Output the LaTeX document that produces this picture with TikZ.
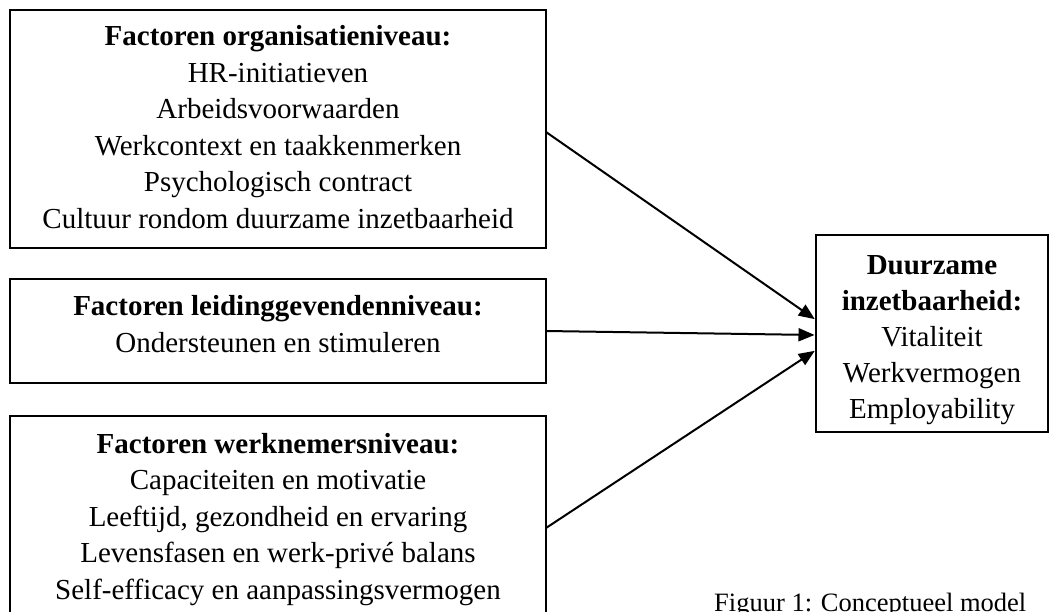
\documentclass[tikz,border=0pt]{standalone}
\usepackage{fontspec}
\setmainfont{Liberation Serif}
\usetikzlibrary{arrows.meta}
\begin{document}
\begin{tikzpicture}[x=1pt,y=-1pt,
  box/.style={draw, line width=2.4pt, rectangle, inner sep=0pt, outer sep=0pt},
  txt/.style={anchor=base, inner sep=0pt, font=\fontsize{29}{35}\selectfont},
  ttl/.style={anchor=base, inner sep=0pt, font=\fontsize{29}{35}\selectfont\bfseries},
  figcap/.style={anchor=base west, inner sep=0pt, font=\fontsize{26.5}{32}\selectfont},
  arr/.style={line width=2pt, shorten >=1.5pt, -{Triangle[length=16pt,width=13pt]}}]
\useasboundingbox (0,0) rectangle (1049,611);
\fill[white] (0,0) rectangle (1049,611);
% boxes
\node[box, minimum width=536pt, minimum height=238pt] (org) at (278,129) {};
\node[box, minimum width=536pt, minimum height=104pt] (lead) at (278,331) {};
\node[box, minimum width=536pt, minimum height=224pt] (werk) at (278,528) {};
\node[box, minimum width=232pt, minimum height=197pt] (dur) at (932,333.5) {};
% texts organisation
\node[ttl] (o0) at (278,45.5) {Factoren organisatieniveau:};
\node[txt] (o1) at (278,82) {HR-initiatieven};
\node[txt] (o2) at (278,118.5) {Arbeidsvoorwaarden};
\node[txt] (o3) at (278,155) {Werkcontext en taakkenmerken};
\node[txt] (o4) at (278,191.5) {Psychologisch contract};
\node[txt] (o5) at (278,228) {Cultuur rondom duurzame inzetbaarheid};
% texts leidinggevende
\node[ttl] (l0) at (278,315) {Factoren leidinggevendenniveau:};
\node[txt] (l1) at (278,352) {Ondersteunen en stimuleren};
% texts werknemer
\node[ttl] (w0) at (278,453) {Factoren werknemersniveau:};
\node[txt] (w1) at (278,489.5) {Capaciteiten en motivatie};
\node[txt] (w2) at (278,526) {Leeftijd, gezondheid en ervaring};
\node[txt] (w3) at (278,562.5) {Levensfasen en werk-privé balans};
\node[txt] (w4) at (278,599) {Self-efficacy en aanpassingsvermogen};
% texts duurzame inzetbaarheid
\node[ttl] (d0) at (932,274) {Duurzame};
\node[ttl] (d1) at (932,310) {inzetbaarheid:};
\node[txt] (d2) at (932,346) {Vitaliteit};
\node[txt] (d3) at (932,382) {Werkvermogen};
\node[txt] (d4) at (932,418) {Employability};
% caption
\node[figcap] (caption) at (714,611) {Figuur 1: Conceptueel model};
% arrows
\draw[arr] ([yshift=-3pt]org.east) -- ([yshift=13.5pt]dur.west);
\draw[arr] (lead.east) -- ([yshift=-1.5pt]dur.west);
\draw[arr] (werk.east) -- ([yshift=-16.5pt]dur.west);
\end{tikzpicture}
\end{document}
